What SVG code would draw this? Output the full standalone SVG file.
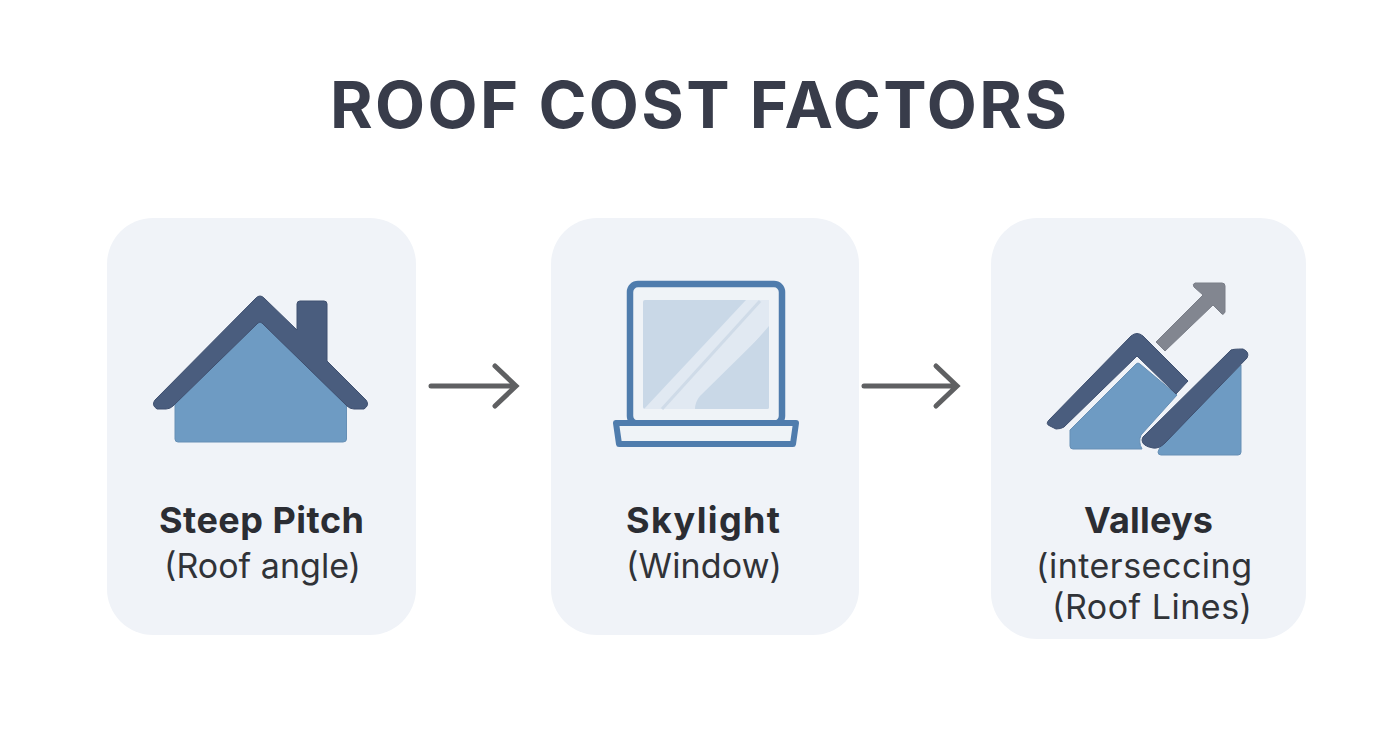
<svg xmlns="http://www.w3.org/2000/svg" width="1392" height="752" viewBox="0 0 1392 752">
<style>
.card{fill:#f0f3f8}
.roof{fill:#4a5d7e;stroke:#3f5070;stroke-width:1;stroke-linejoin:round}
.wall{fill:#6e9bc3;stroke:#668fb5;stroke-width:1;stroke-linejoin:round}
text{font-family:Inter,"Liberation Sans",sans-serif;text-anchor:middle}
.title{font-size:65px;font-weight:700;fill:#383c4a}
.h{font-size:36px;font-weight:700;fill:#2b2d33}
.s{font-size:34px;font-weight:400;fill:#303338}
.conn{fill:none;stroke:#5f6062;stroke-width:5;stroke-linecap:round;stroke-linejoin:miter}
</style>
<rect width="1392" height="752" fill="#fff"/>
<text class="title" x="698.500" y="128" id="title" textLength="737">ROOF COST FACTORS</text>
<g id="connectors">
<path class="conn" d="M431 386H515M495 366L516 386L495 406"/>
<path class="conn" d="M864 386H955M936 366L957 386L936 406"/>
</g>
<g id="node-steep-pitch">
<rect class="card" x="107" y="218" width="309" height="417" rx="46"/>
<path class="wall" d="M175 404L258 323Q260 321 262 323L346.500 404V439Q346.500 442 343 442H178Q175 442 175 439Z"/>
<path class="roof" d="M297 304Q297 301 300 301H324Q327 301 327 304V361L366 400Q370 405 364 409H354Q350 409 347 406L262 323Q260 321 258 323L173 406Q170 409 166 409H157Q151 405 155 400L256 298Q260 294 264 298L297 330Z"/>
<text class="h" x="261.500" y="533" textLength="205">Steep Pitch</text>
<text class="s" x="262.500" y="578" textLength="197">(Roof angle)</text>
</g>
<g id="node-skylight">
<rect class="card" x="551" y="218" width="308" height="417" rx="46"/>
<rect x="630" y="284" width="152" height="140" rx="8" fill="#eff3f7" stroke="#4f7cad" stroke-width="6.500"/>
<rect x="643" y="300" width="126" height="109" rx="2" fill="#c9d8e7"/>
<path d="M644 409L746 300H769V326L696 409Z" fill="#e1e9f2"/>
<path d="M662 409L760 301" fill="none" stroke="#cfdbe8" stroke-width="3"/>
<path d="M769 328V407Q769 409 767 409H695Q695 402 700 396Z" fill="#c9d8e7"/>
<path d="M616 423H796L793 444H619Z" fill="#eff3f7" stroke="#4f7cad" stroke-width="6" stroke-linejoin="round"/>
<text class="h" x="703" y="533" textLength="154">Skylight</text>
<text class="s" x="704" y="578" textLength="156">(Window)</text>
</g>
<g id="node-valleys">
<rect class="card" x="991" y="218" width="315" height="421" rx="46"/>
<path class="wall" d="M1070 430L1136 364Q1138 362 1140 364L1177 395L1141 435Q1138 442 1142 449H1073Q1070 449 1070 446Z"/>
<path class="wall" d="M1241 365V452Q1241 455 1238 455H1161Q1158 455 1158 452L1160 447Z"/>
<path class="roof" d="M1131 336Q1137 331 1143 336L1188 381L1176 394L1137 356L1064 427Q1061 429 1056 429L1050 426Q1045 424 1049 420Z"/>
<path class="roof" d="M1231 350Q1233 349 1243 349Q1250 352 1247 358L1165 443Q1159 449 1153 448Q1142 446 1142 440Q1142 437 1145 435Z"/>
<path d="M1156 342L1203 295L1194 287Q1192 284 1195 283H1222Q1225 283 1225 286V312Q1223 316 1221 313L1213 305L1165 351Z" fill="#828690" stroke="#7a7e88" stroke-width="1" stroke-linejoin="round"/>
<text class="h" x="1148.500" y="533" textLength="129">Valleys</text>
<text class="s" x="1144" y="578" textLength="216">(interseccing</text>
<text class="s" x="1152" y="619" textLength="200">(Roof Lines)</text>
</g>
</svg>
